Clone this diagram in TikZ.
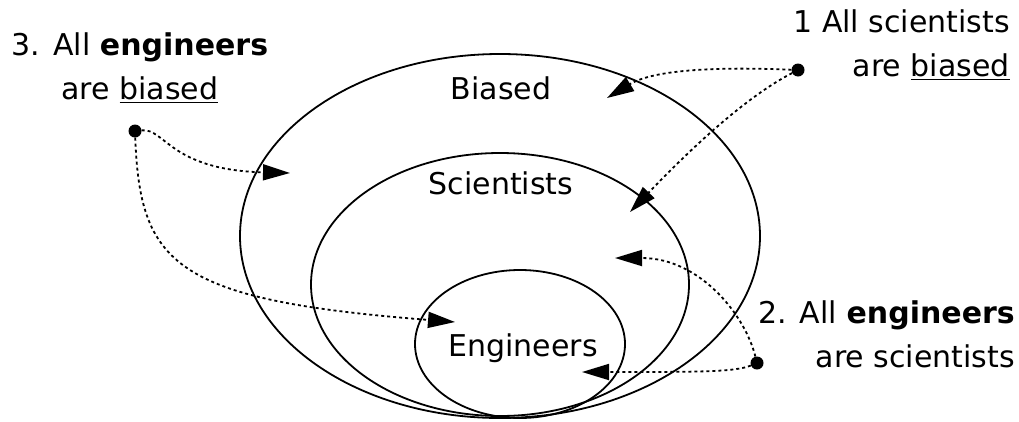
\documentclass[tikz,border=0pt]{standalone}
\usepackage{fontspec}
\setmainfont{DejaVu Sans}
\usetikzlibrary{arrows.meta,positioning,shapes.geometric}
\tikzset{
  setline/.style={ellipse, draw, line width=1.8pt, inner sep=0pt},
  claim/.style={align=#1, inner sep=0pt, font=\fontsize{30}{44}\selectfont},
  setname/.style={inner sep=0pt, font=\fontsize{30}{36}\selectfont},
  pin/.style={circle, fill, inner sep=0pt, minimum size=13pt},
  link/.style={-{Triangle[length=27pt,width=16pt]}, line width=1.8pt, dash pattern=on 3pt off 3pt},
}
\begin{document}
\begin{tikzpicture}[x=1pt,y=-1pt]
  \useasboundingbox (0,0) rectangle (1019,421);
  \node[setline, minimum width=520pt, minimum height=364pt] (biased) at (500,236) {};
  \node[setline, minimum width=378pt, minimum height=263pt] (scient) at (500,284.5) {};
  \node[setline, minimum width=210pt, minimum height=148pt] (engin) at (520,344) {};
  \node[setname] (lb) at (501,88) {Biased};
  \node[setname] (ls) at (501,183) {Scientists};
  \node[setname] (le) at (523,348) {Engineers};

  \node[claim=center, anchor=north] (c3) at (140,33) {3. All \textbf{engineers}\\are \underline{biased}};
  \node[claim=right, anchor=north east] (c1) at (1010,10) {1 All scientists\\are \underline{biased}};
  \node[claim=right, anchor=north east] (c2) at (1015,300) {2. All \textbf{engineers}\\are scientists};

  \node[pin] (p3) at (135,131) {};
  \node[pin] (p1) at (798,70) {};
  \node[pin] (p2) at (757,363) {};
  \coordinate (t3a) at (290,173);
  \coordinate (t3b) at (455,322);
  \coordinate (t1a) at (607,98);
  \coordinate (t1b) at (630,212);
  \coordinate (t2a) at (615,258);
  \coordinate (t2b) at (582,372);

  \draw[link] (p3) .. controls (165,128) and (170,170) .. (t3a);
  \draw[link] (p3) .. controls (140,265) and (175,300) .. (t3b);
  \draw[link] (p1) .. controls (700,66) and (650,72) .. (t1a);
  \draw[link] (p1) .. controls (740,100) and (680,160) .. (t1b);
  \draw[link] (p2) .. controls (745,315) and (700,258) .. (t2a);
  \draw[link] (p2) .. controls (735,372) and (700,372) .. (t2b);
\end{tikzpicture}
\end{document}
